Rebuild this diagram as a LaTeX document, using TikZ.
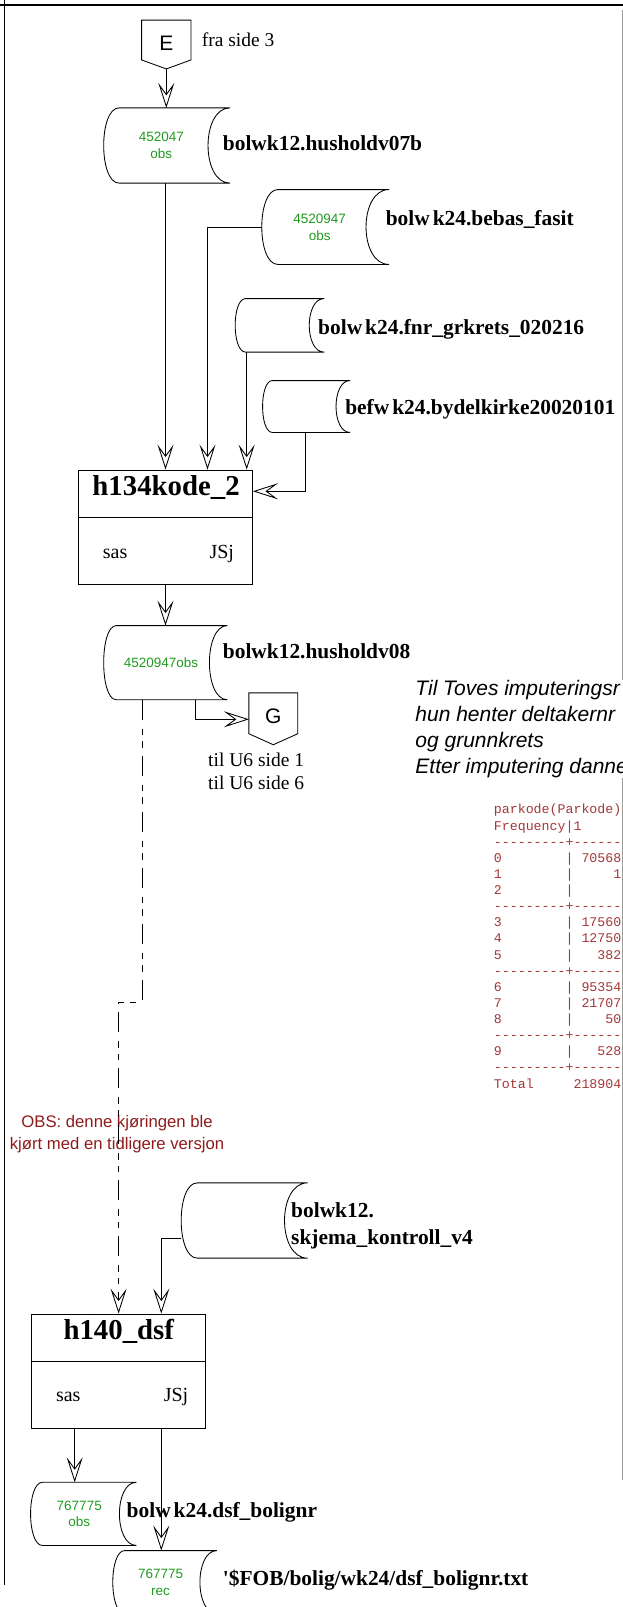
\documentclass[tikz,border=0pt]{standalone}
\usepackage{fontspec}
\setmainfont{Liberation Serif}
\setsansfont{Liberation Sans}
\setmonofont{Liberation Mono}[Ligatures=TeXOff]
\usepackage{tikz}
\usetikzlibrary{arrows.meta,calc}
\definecolor{countgreen}{HTML}{1F9A1F}
\definecolor{notered}{HTML}{8E1B1B}
\definecolor{freqred}{HTML}{A43838}
\definecolor{framegray}{HTML}{9A9A9A}
\newcommand{\fsz}[2]{\fontsize{#1pt}{#2pt}\selectfont}
\newcommand{\storeoutline}[2]{%
  \draw ([xshift=0.7*#2]#1.north west) -- ([xshift=0.5*#2]#1.north east)
    .. controls +(-1.333*#2,0) and +(-1.333*#2,0) .. ([xshift=0.5*#2]#1.south east)
    -- ([xshift=0.7*#2]#1.south west)
    .. controls +(-0.933*#2,0) and +(-0.933*#2,0) .. ([xshift=0.7*#2]#1.north west);}
\newcommand{\offpage}[2]{%
  \draw (#1.north west) -- (#1.north east) -- (#1.south east)
    -- ([yshift=-#2]#1.south) coordinate (#1tip) -- (#1.south west) -- cycle;}

\begin{document}
\begin{tikzpicture}[x=1pt,y=-1pt,line width=0.85pt,
  >={Stealth[open,fill=white,length=25pt,width=16pt,inset=11pt]},
  dsname/.style={anchor=base west,inner sep=0pt,font=\fsz{21.4}{27.3}\bfseries},
  plaintxt/.style={anchor=base west,inner sep=0pt,font=\fsz{19.5}{23.7}},
  store/.style={inner sep=0pt,align=center,text=countgreen,font=\sffamily\fsz{13.5}{16.7}},
  offpg/.style={inner sep=0pt,minimum width=48.5,minimum height=39,text height=20pt,text depth=0pt,font=\sffamily\fsz{21}{24}},
  proc/.style={draw,inner sep=0pt,minimum width=174,minimum height=114},
  ptitle/.style={anchor=base,inner sep=0pt,font=\fsz{28.8}{32}\bfseries},
  pinfo/.style={inner sep=0pt,font=\fsz{20}{24}}]
\useasboundingbox (0,0) rectangle (623,1607);
\draw[line width=1.6pt] (0,5) -- (623,5);
\draw (4,0) -- (4,1585);
\draw[framegray,line width=1.2pt] (622.5,10) -- (622.5,1480);

\node[offpg] (E) at (166.3,40) {E};
\offpage{E}{9}
\node[plaintxt] (Etxt) at (201.4,46.6) {fra side 3};

\node[store,minimum width=114.5,minimum height=74.4] (hh07) at (161.35,145.5) {452047\\obs};
\storeoutline{hh07}{22}
\node[dsname] (hh07txt) at (222.5,150.6) {bolwk12.husholdv07b};
\draw[->] (Etip) -- (Etip |- hh07.north);

\node[store,minimum width=114.9,minimum height=74] (fasit) at (319.65,227) {4520947\\obs};
\storeoutline{fasit}{23}
\node[dsname] (fasittxt) at (385.4,225.6) {bolw\kern3pt k24.bebas\_fasit};

\node[store,minimum width=80.7,minimum height=52.7] (grk) at (275.95,325.35) {};
\storeoutline{grk}{15}
\node[dsname] (grktxt) at (317.8,334) {bolw\kern3pt k24.fnr\_grkrets\_020216};

\node[store,minimum width=79.6,minimum height=51] (kirke) at (302.8,406.5) {};
\storeoutline{kirke}{14}
\node[dsname] (kirketxt) at (344.9,414) {befw\kern3pt k24.bydelkirke20020101};

\node[proc] (kode) at (165.5,527) {};
\draw ([yshift=-48.3pt]kode.north west) -- ([yshift=-48.3pt]kode.north east);
\node[ptitle] (kodetitle) at (166.1,495) {h134kode\_2};
\node[pinfo,anchor=base west] (kodesas) at (102.5,558.3) {sas};
\node[pinfo,anchor=base east] (kodejsj) at (234.4,558.3) {JSj};

\draw[->] (kode.north |- hh07.south) -- (kode.north);
\draw[->] (fasit.west) -| ([xshift=42pt]kode.north);
\draw[->] ([xshift=11.5pt]grk.south west) -- ([xshift=11.5pt]kode.north -| grk.south west);
\draw[->] ([xshift=3pt]kirke.south) |- ([yshift=-21.7pt]kode.north east);

\node[store,minimum width=113.9,minimum height=73.3] (hh08) at (161.05,662.65) {4520947obs};
\storeoutline{hh08}{18}
\node[dsname] (hh08txt) at (222.5,658.5) {bolwk12.husholdv08};
\draw[->] (kode.south) -- (kode.south |- hh08.north);

\node[offpg,minimum width=48,minimum height=40] (G) at (273.3,713.3) {G};
\offpage{G}{11}
\draw[->] ([xshift=34.5pt]hh08.south) |- ([yshift=-6pt]G.west);
\node[plaintxt,align=left] (Gtxt) at (207.8,789.7) {til U6 side 1\\til U6 side 6};

\node[anchor=base west,align=left,inner sep=0pt,fill=white,font=\sffamily\itshape\fsz{21}{26.1}] (tove) at (415,773.3) {Til Toves imputeringsr\\hun henter deltakernr\\og grunnkrets\\Etter imputering danne};

\node[anchor=base west,align=left,inner sep=0pt,fill=white,text=freqred,font=\ttfamily\fsz{13.27}{16.12}] (freq) at (493.5,1088) {parkode(Parkode)\\Frequency|1\\---------+------\\0~~~~~~~~|~70568\\1~~~~~~~~|~~~~~1\\2~~~~~~~~|\\---------+------\\3~~~~~~~~|~17560\\4~~~~~~~~|~12750\\5~~~~~~~~|~~~382\\---------+------\\6~~~~~~~~|~95354\\7~~~~~~~~|~21707\\8~~~~~~~~|~~~~50\\---------+------\\9~~~~~~~~|~~~528\\---------+------\\Total~~~~~218904~};

\node[align=center,text=notered,font=\sffamily\fsz{16.7}{21.6},inner sep=0pt,anchor=base] (obsnote) at (117,1149.3) {OBS: denne kjøringen ble\\kjørt med en tidligere versjon};

\node[store,minimum width=114,minimum height=74.4] (skj) at (238.6,1220.5) {};
\storeoutline{skj}{23}
\node[dsname,align=left] (skjtxt) at (290.8,1244.6) {bolwk12.\\skjema\_kontroll\_v4};

\node[proc] (dsfproc) at (118.6,1371) {};
\draw ([yshift=-48.3pt]dsfproc.north west) -- ([yshift=-48.3pt]dsfproc.north east);
\node[ptitle] (dsftitle) at (118.8,1339.3) {h140\_dsf};
\node[pinfo,anchor=base west] (dsfsas) at (55.6,1401.7) {sas};
\node[pinfo,anchor=base east] (dsfjsj) at (188.7,1401.7) {JSj};

\draw[->,dash pattern=on 20pt off 9pt on 6.5pt off 6pt on 6.5pt off 8pt] ([xshift=-19pt]hh08.south) -- ++(0,303) -| (dsfproc.north);
\draw[->] ([yshift=-17.8pt]skj.west) -| ([xshift=42.7pt]dsfproc.north);

\node[store,minimum width=96.5,minimum height=62.3] (dsfobs) at (79.25,1513.85) {767775\\obs};
\storeoutline{dsfobs}{17}
\node[dsname] (dsfobsname) at (126.3,1517.3) {bolw\kern3pt k24.dsf\_bolignr};

\node[store,minimum width=94.8,minimum height=62.3] (dsfrec) at (160.6,1582.15) {767775\\rec};
\storeoutline{dsfrec}{17}
\node[dsname] (dsfrecname) at (222.5,1585.6) {\textquotesingle\$FOB/bolig/wk24/dsf\_bolignr.txt};

\draw[->] ([xshift=-43.9pt]dsfproc.south) -- ([xshift=-43.9pt]dsfproc.south |- dsfobs.north);
\draw[->] ([xshift=42.7pt]dsfproc.south) -- ([xshift=42.7pt]dsfproc.south |- dsfrec.north);
\end{tikzpicture}
\end{document}
